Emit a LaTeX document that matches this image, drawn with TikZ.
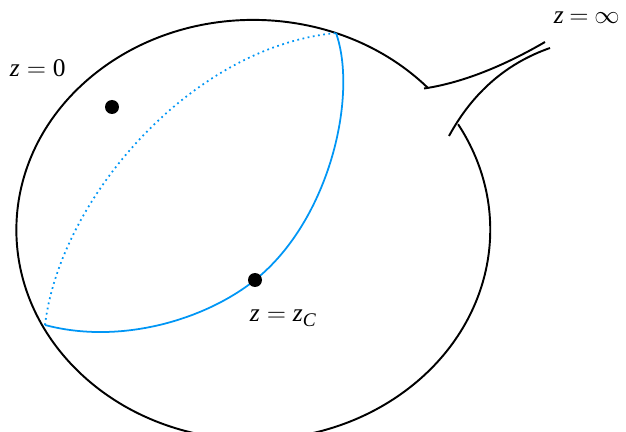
\documentclass[tikz,border=0pt]{standalone}
\usepackage{fontspec}
\setmainfont{Liberation Serif}
\definecolor{curveblue}{RGB}{0,150,245}
\newcommand{\eqsign}{\hspace{0.27em}$=$\hspace{0.27em}}
\tikzset{
  dot/.style={circle, fill=black, inner sep=0pt, minimum size=0.28cm},
  lbl/.style={font=\fontsize{14.5}{17}\selectfont, inner sep=0pt, anchor=base west}
}
\begin{document}
\begin{tikzpicture}[x=0.02cm, y=0.02cm, line width=1.1pt]
  \useasboundingbox (0,0) rectangle (626,-432);

  % sphere with the opening
  \draw (428,-88) arc[start angle=42.5, end angle=390.2, x radius=4.74cm, y radius=4.2cm];

  % neck
  \draw (424,-88.5) .. controls (461,-83) and (502,-67) .. (545,-42);
  \draw (449,-136) .. controls (473,-92) and (507,-63) .. (550,-48);

  % cycle
  \coordinate (top) at (336,-33);
  \coordinate (left) at (45,-325);
  \draw[curveblue, line width=1pt] (top) .. controls (358,-95) and (330,-220) .. (255,-280)
    .. controls (205,-320) and (120,-345) .. (left);
  \draw[curveblue, line width=1pt, dotted] (left) .. controls (60,-200) and (190,-47) .. (top);

  % points
  \node[dot] (zero) at (112,-107) {};
  \node[dot] (zc) at (255,-280) {};

  % labels
  \node[lbl] (zerolbl) at (9,-77) {\textit{z}\eqsign 0};
  \node[lbl] (inflbl) at (553,-24) {\textit{z}\hspace{0.22em}$=$\hspace{0.22em}$\infty$};
  \node[lbl] (zclbl) at (249,-322) {\textit{z}\eqsign\textit{z}\raisebox{-0.35ex}{\fontsize{11}{13}\selectfont\textit{C}}};
\end{tikzpicture}
\end{document}
